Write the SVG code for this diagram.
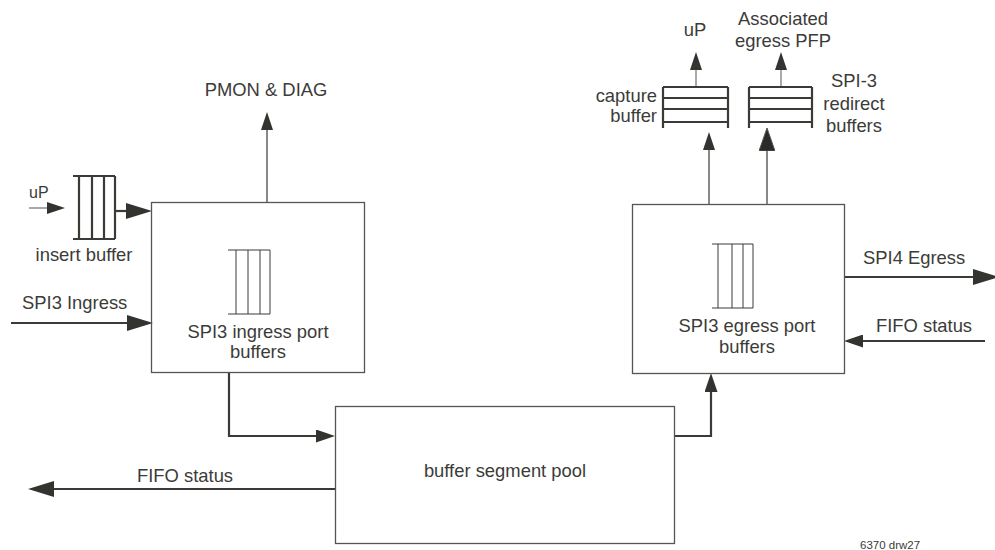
<svg xmlns="http://www.w3.org/2000/svg" width="995" height="550" viewBox="0 0 995 550">
<style>
text{font-family:"Liberation Sans",Arial,sans-serif;font-size:18.4px;fill:#3b3b38}
.box{fill:none;stroke:#555552;stroke-width:1.3}
.thick{fill:none;stroke:#3a3a36;stroke-width:2.2}
.thin{fill:none;stroke:#3a3a36;stroke-width:1.2}
.light{fill:none;stroke:#707070;stroke-width:1.2}
.buf{fill:none;stroke:#3a3a36;stroke-width:2.2}
.buft{fill:none;stroke:#3a3a36;stroke-width:1}
</style>
<defs>
<marker id="aL" viewBox="0 0 26 16" refX="0" refY="8" markerWidth="26" markerHeight="16" markerUnits="userSpaceOnUse" orient="auto"><path d="M0,0L26,8L0,16z" fill="#33332f"/></marker>
<marker id="aM" viewBox="0 0 19 13" refX="0" refY="6.5" markerWidth="19" markerHeight="13" markerUnits="userSpaceOnUse" orient="auto"><path d="M0,0L19,6.5L0,13z" fill="#33332f"/></marker>
<marker id="aS" viewBox="0 0 18 12" refX="0" refY="6" markerWidth="18" markerHeight="12" markerUnits="userSpaceOnUse" orient="auto"><path d="M0,0L18,6L0,12z" fill="#33332f"/></marker>
<marker id="aR" viewBox="0 0 23 16" refX="0" refY="8" markerWidth="23" markerHeight="16" markerUnits="userSpaceOnUse" orient="auto"><path d="M0,0L23,8L0,16z" fill="#2a2a27" stroke="#555" stroke-width="1"/></marker>
</defs>

<g id="connectors">
<path class="light" d="M29,208H47" marker-end="url(#aS)"/>
<path class="thick" d="M115,211H126" marker-end="url(#aL)"/>
<path class="thick" d="M11,323H127" marker-end="url(#aL)"/>
<path class="thin" d="M267,202V130" marker-end="url(#aS)"/>
<path class="thick" d="M229,372V436H316" marker-end="url(#aM)"/>
<path class="thick" d="M674,436H711V392" marker-end="url(#aM)"/>
<path class="thick" d="M335,489H54" marker-end="url(#aL)"/>
<path class="thick" d="M844,277H973" marker-end="url(#aL)"/>
<path class="thick" d="M985,341H863" marker-end="url(#aM)"/>
<path class="thin" d="M709,204V150" marker-end="url(#aS)"/>
<path class="thin" d="M767,204V151" marker-end="url(#aR)"/>
<path class="light" d="M696,87V70" marker-end="url(#aS)"/>
<path class="light" d="M781,87V70" marker-end="url(#aS)"/>
</g>

<g id="insert-buffer">
<path class="buf" d="M73,176H115M73,239H115M79,176V239M92,176V239M104,176V239M115,176V239"/>
<text x="84" y="261" text-anchor="middle">insert buffer</text>
</g>

<g id="ingress-box">
<rect class="box" x="151.5" y="202.5" width="213" height="170"/>
<path class="buft" d="M228,250H270M228,314H270M236,250V314M248,250V314M260,250V314M270,250V314"/>
<text x="258" y="338" text-anchor="middle">SPI3 ingress port</text>
<text x="258" y="358" text-anchor="middle">buffers</text>
</g>

<g id="egress-box">
<rect class="box" x="632.5" y="204.5" width="212" height="169"/>
<path class="buft" d="M712,244H753M712,308H753M718,244V308M732,244V308M743,244V308M753,244V308"/>
<text x="747" y="332" text-anchor="middle">SPI3 egress port</text>
<text x="747" y="353" text-anchor="middle">buffers</text>
</g>

<g id="buffer-segment-pool">
<rect class="box" x="335.5" y="406.5" width="339" height="137"/>
<text x="505" y="477" text-anchor="middle">buffer segment pool</text>
</g>

<g id="capture-buffer">
<path class="buf" d="M663,87H728M663,98H728M663,109H728M663,122H728M663,87V128M728,87V128"/>
<text x="657" y="102" text-anchor="end">capture</text>
<text x="657" y="122" text-anchor="end">buffer</text>
</g>

<g id="redirect-buffers">
<path class="buf" d="M749,87H812M749,98H812M749,109H812M749,122H812M749,87V128M812,87V128"/>
<text x="854" y="87" text-anchor="middle">SPI-3</text>
<text x="854" y="110" text-anchor="middle">redirect</text>
<text x="854" y="132" text-anchor="middle">buffers</text>
</g>

<g id="labels">
<text x="266" y="96" text-anchor="middle">PMON &amp; DIAG</text>
<text x="29" y="198" style="font-size:16px">uP</text>
<text x="22" y="309">SPI3 Ingress</text>
<text x="695" y="36" text-anchor="middle">uP</text>
<text x="783" y="25" text-anchor="middle">Associated</text>
<text x="783" y="47" text-anchor="middle">egress PFP</text>
<text x="863" y="264">SPI4 Egress</text>
<text x="876" y="332">FIFO status</text>
<text x="137" y="482">FIFO status</text>
<text x="860" y="549" style="font-size:11.5px">6370 drw27</text>
</g>
</svg>
